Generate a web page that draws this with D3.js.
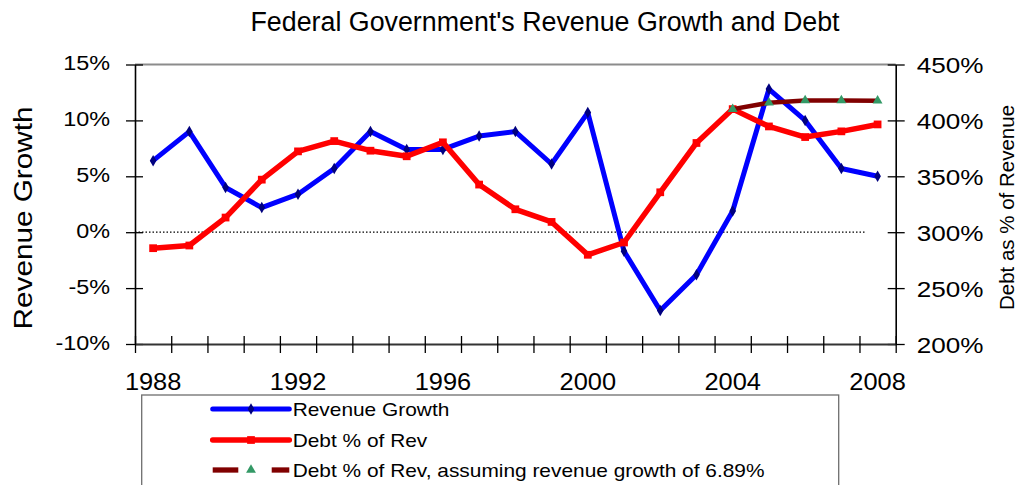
<!DOCTYPE html>
<html>
<head>
<meta charset="utf-8">
<script src="https://cdn.jsdelivr.net/npm/d3@7/dist/d3.min.js"></script>
<style>
body { margin: 0; background: #fff; }
svg { display: block; font-family: "Liberation Sans", Arial, sans-serif; }
</style>
</head>
<body>
<script>
// chart data
var years = [1988, 1989, 1990, 1991, 1992, 1993, 1994, 1995, 1996, 1997, 1998,
             1999, 2000, 2001, 2002, 2003, 2004, 2005, 2006, 2007, 2008];
var revenueGrowth = [6.4, 9.0, 4.0, 2.2, 3.4, 5.7, 9.0, 7.4, 7.4, 8.6, 9.0,
                     6.1, 10.7, -1.7, -7.0, -3.8, 1.9, 12.8, 10.0, 5.7, 5.0];
var debtOfRev = [285.7, 288.1, 313.1, 347.0, 372.3, 381.5, 372.9, 367.9, 380.4, 342.6, 320.5,
                 309.2, 279.8, 290.8, 335.7, 379.8, 410.1, 394.6, 385.1, 390.2, 396.4];
var projYears = [2004, 2005, 2006, 2007, 2008];
var projDebt = [410.1, 415.8, 417.9, 417.9, 417.6];

var leftTicks = [-10, -5, 0, 5, 10, 15];
var rightTicks = [200, 250, 300, 350, 400, 450];
var yearLabels = [1988, 1992, 1996, 2000, 2004, 2008];
var legendNames = ["Revenue Growth", "Debt % of Rev",
                   "Debt % of Rev, assuming revenue growth of 6.89%"];

var W = 1017, H = 485;
var plotL = 135, plotR = 895.7, plotT = 64.5, plotB = 344;
var stretchK = 1.18;

var svg = d3.select("body").append("svg")
    .attr("width", W)
    .attr("height", H);

var x = d3.scaleBand().domain(years).range([plotL, plotR]);
var xEdge = d3.scaleLinear().domain([years[0], years[years.length - 1] + 1]).range([plotL, plotR]);
var yL = d3.scaleLinear().domain([-10, 15]).range([plotB, plotT]);
var yR = d3.scaleLinear().domain([200, 450]).range([plotB, plotT]);

function cx(yr) { return x(yr) + x.bandwidth() / 2; }

// stretch text horizontally, the original font runs wide
function stretch(sel, k) {
    sel.each(function() {
        var w = this.getComputedTextLength();
        this.setAttribute("textLength", w * k);
        this.setAttribute("lengthAdjust", "spacingAndGlyphs");
    });
}

// title
svg.append("text")
    .attr("x", 545)
    .attr("y", 31)
    .attr("text-anchor", "middle")
    .style("font-size", "26.8px")
    .text("Federal Government's Revenue Growth and Debt");

// top border
svg.append("line")
    .attr("x1", plotL).attr("x2", plotR)
    .attr("y1", plotT).attr("y2", plotT)
    .style("stroke", "#8c8c8c")
    .style("stroke-width", 2);

// zero line, dotted
svg.append("line")
    .attr("x1", plotL).attr("x2", cx(2008) - 12)
    .attr("y1", yL(0)).attr("y2", yL(0))
    .style("stroke", "#000")
    .style("stroke-width", 1.3)
    .style("stroke-dasharray", "1.5,2");

// left axis
var gL = svg.append("g")
    .attr("transform", "translate(" + plotL + ",0)")
    .call(d3.axisLeft(yL).tickValues(leftTicks).tickSize(9).tickSizeOuter(0).tickPadding(16)
        .tickFormat(function(d) { return d + "%"; }));
gL.selectAll(".tick line").attr("x1", 8);
gL.selectAll("text").style("font-size", "19.5px").attr("dy", "0.27em");

// right axis
var gR = svg.append("g")
    .attr("transform", "translate(" + plotR + ",0)")
    .call(d3.axisRight(yR).tickValues(rightTicks).tickSize(9).tickSizeOuter(0).tickPadding(12)
        .tickFormat(function(d) { return d + "%"; }));
gR.selectAll(".tick line").attr("x1", -8);
gR.selectAll("text").style("font-size", "22.3px").attr("dy", "0.36em");

// bottom axis: tick marks on category edges, labels on centers
var gB = svg.append("g")
    .attr("transform", "translate(0," + plotB + ")")
    .call(d3.axisBottom(xEdge).tickValues(years.concat([2009])).tickSize(9).tickSizeOuter(0).tickFormat(""));
gB.selectAll(".tick line").attr("y1", -8);

var gX = svg.append("g")
    .attr("transform", "translate(0," + plotB + ")")
    .call(d3.axisBottom(x).tickValues(yearLabels).tickSize(0).tickPadding(29.5));
gX.select(".domain").remove();
gX.selectAll("text").style("font-size", "23.3px");

[gL, gR, gB, gX].forEach(function(g) {
    g.selectAll("text").attr("fill", "#000");
    g.selectAll("line").style("stroke", "#000").style("stroke-width", 1.3);
});
gB.select(".domain").style("stroke-width", 2).style("stroke", "#333");
gL.select(".domain").style("stroke", "#000").style("stroke-width", 1.6);
gR.select(".domain").style("stroke", "#000").style("stroke-width", 1.6);

stretch(gL.selectAll("text"), 1.2);
stretch(gR.selectAll("text"), 1.17);
stretch(gX.selectAll("text"), 1.09);

// axis titles
var tL = svg.append("text")
    .attr("transform", "translate(31.5,218) rotate(-90)")
    .attr("text-anchor", "middle")
    .style("font-size", "25.6px")
    .text("Revenue Growth");
stretch(tL, 1.16);

svg.append("text")
    .attr("transform", "translate(1014,207.5) rotate(-90)")
    .attr("text-anchor", "middle")
    .style("font-size", "20.5px")
    .text("Debt as % of Revenue");

// series
var lineL = d3.line()
    .x(function(d) { return cx(d[0]); })
    .y(function(d) { return yL(d[1]); });
var lineR = d3.line()
    .x(function(d) { return cx(d[0]); })
    .y(function(d) { return yR(d[1]); });

var revData = years.map(function(yr, i) { return [yr, revenueGrowth[i]]; });
var debtData = years.map(function(yr, i) { return [yr, debtOfRev[i]]; });
var projData = projYears.map(function(yr, i) { return [yr, projDebt[i]]; });

var series = [
    { data: revData, line: lineL, y: yL, color: "#0000ff", width: 5,
      symbol: d3.symbolDiamond, size: 38, mark: "#000080" },
    { data: debtData, line: lineR, y: yR, color: "#ff0000", width: 5.5,
      symbol: d3.symbolSquare, size: 60, mark: "#ff0000" },
    { data: projData, line: lineR, y: yR, color: "#800000", width: 4.5,
      symbol: d3.symbolTriangle, size: 42, mark: "#339966" }
];

series.forEach(function(s) {
    svg.append("path")
        .datum(s.data)
        .attr("d", s.line)
        .style("fill", "none")
        .style("stroke", s.color)
        .style("stroke-width", s.width)
        .style("stroke-linejoin", "round")
        .style("stroke-linecap", "round");
    svg.append("g").selectAll("path")
        .data(s.data)
        .enter().append("path")
        .attr("transform", function(d) { return "translate(" + cx(d[0]) + "," + s.y(d[1]) + ")"; })
        .attr("d", d3.symbol().type(s.symbol).size(s.size))
        .style("fill", s.mark);
});

// legend
var legend = svg.append("g");
legend.append("rect")
    .attr("x", 141.7).attr("y", 395)
    .attr("width", 697).attr("height", 120)
    .style("fill", "none")
    .style("stroke", "#6e6e6e")
    .style("stroke-width", 1.3);

var rowY = [409, 440, 470];
var lx1 = 212.7, lx2 = 289.3, lmid = 251;

legendNames.forEach(function(name, i) {
    var s = series[i];
    var ry = rowY[i];
    if (i < 2) {
        legend.append("line")
            .attr("x1", lx1).attr("x2", lx2).attr("y1", ry).attr("y2", ry)
            .style("stroke", s.color).style("stroke-width", s.width)
            .style("stroke-linecap", "round");
    } else {
        legend.append("line")
            .attr("x1", lx1).attr("x2", 238.3).attr("y1", ry).attr("y2", ry)
            .style("stroke", s.color).style("stroke-width", 5.3);
        legend.append("line")
            .attr("x1", 271.7).attr("x2", lx2).attr("y1", ry).attr("y2", ry)
            .style("stroke", s.color).style("stroke-width", 5.3);
    }
    legend.append("path")
        .attr("transform", "translate(" + lmid + "," + ry + ")")
        .attr("d", d3.symbol().type(s.symbol).size(s.size))
        .style("fill", s.mark);
    var t = legend.append("text")
        .attr("x", 292.7)
        .attr("y", ry + 7)
        .style("font-size", "17.7px")
        .text(name);
    stretch(t, stretchK);
});
</script>
</body>
</html>
